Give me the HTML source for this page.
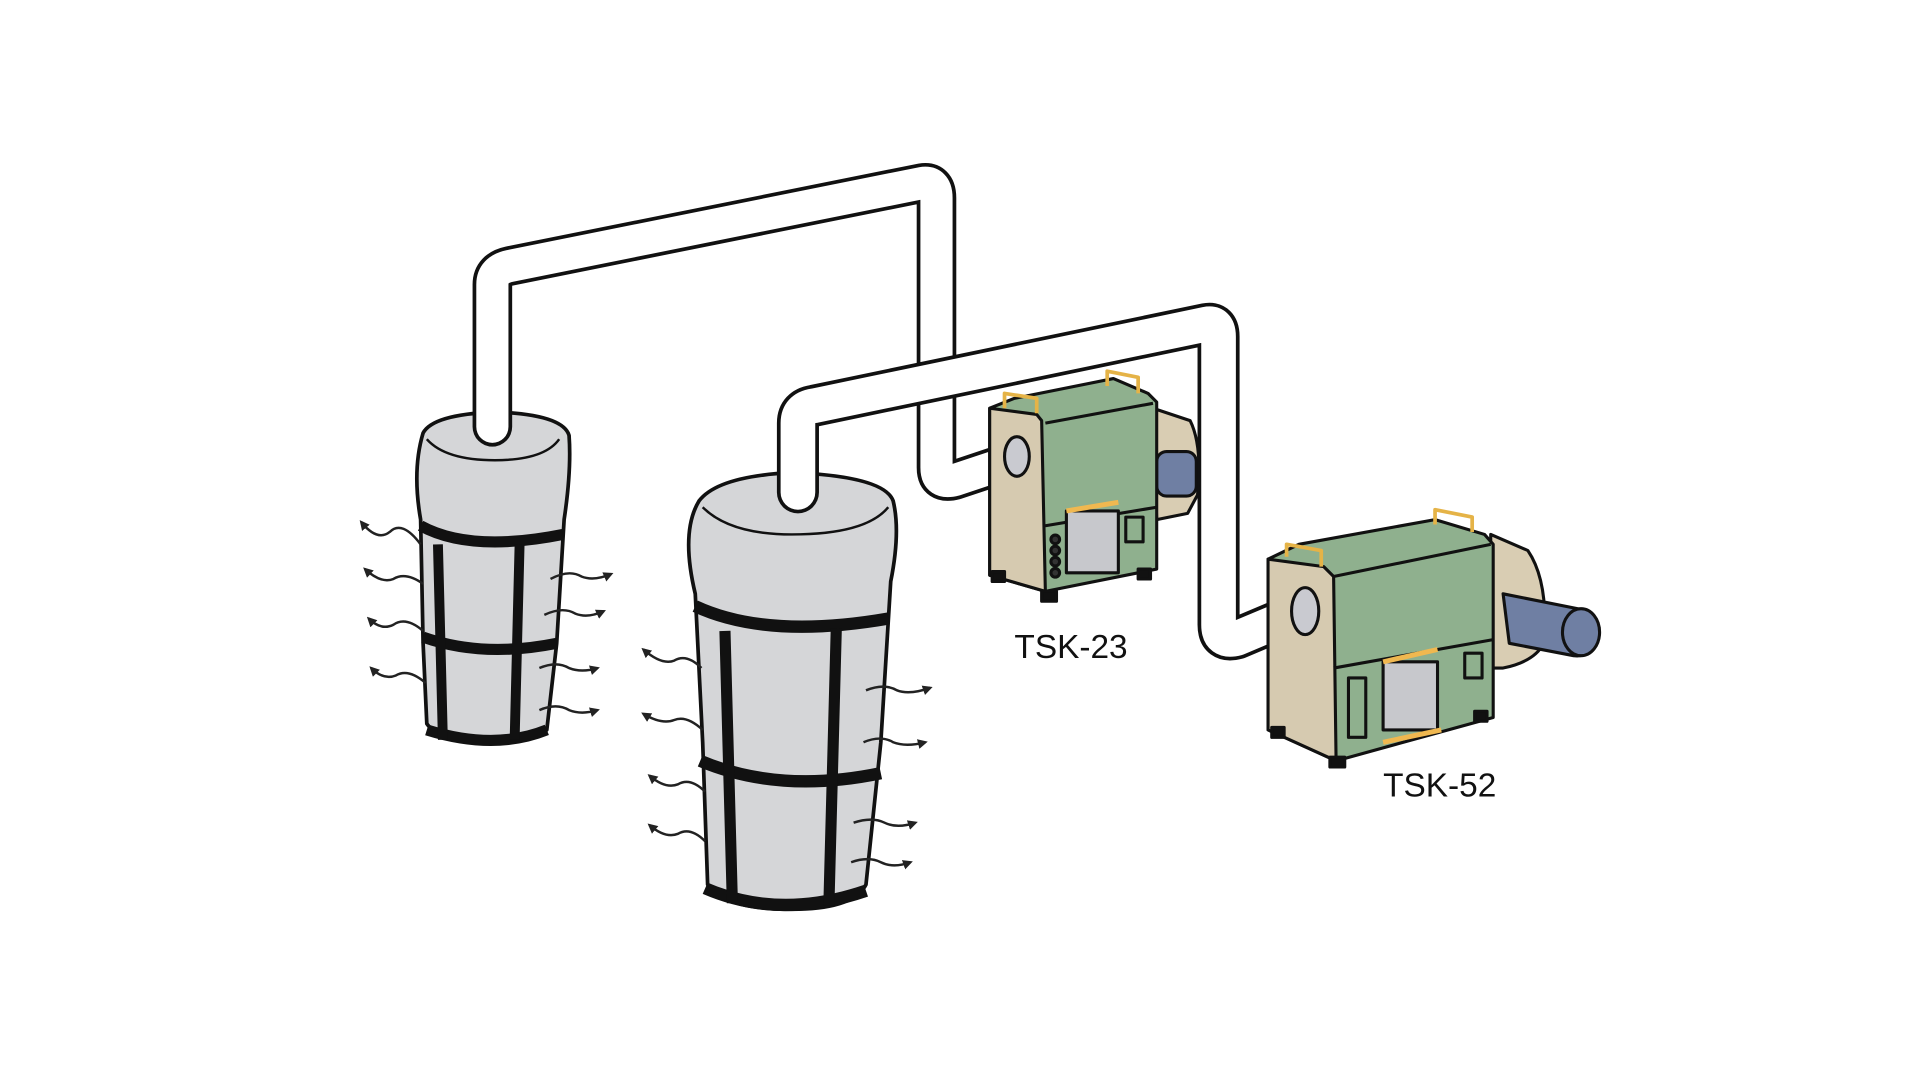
<!DOCTYPE html>
<html><head><meta charset="utf-8"><style>html,body{margin:0;padding:0;background:#fff;width:1920px;height:1080px;overflow:hidden}</style></head>
<body>
<svg width="1920" height="1080" viewBox="0 0 1552 873" preserveAspectRatio="none" xmlns="http://www.w3.org/2000/svg">
<defs>
<marker id="ah" markerWidth="8" markerHeight="8" refX="6" refY="4" orient="auto" markerUnits="userSpaceOnUse"><path d="M0,0 L8,4 L0,8 Z" fill="#222"/></marker>
</defs>
<!-- left bag -->
<g stroke="#111" stroke-linejoin="round">
<path d="M342,350 Q350,335 400,333 Q455,335 460,352 Q462,380 456,420 L450,520 L442,590 Q430,600 400,600 Q355,600 345,585 L342,520 L340,420 Q333,380 342,350 Z" fill="#d5d6d8" stroke-width="3"/>
<path d="M345,355 Q360,372 400,372 Q440,372 452,355" fill="none" stroke-width="2"/>
<path d="M340,425 Q380,447 455,432" fill="none" stroke-width="9"/>
<path d="M342,515 Q390,532 450,520" fill="none" stroke-width="9"/>
<path d="M345,590 Q400,607 442,590" fill="none" stroke-width="9"/>
<path d="M354,440 L358,598 M420,440 L416,598" stroke-width="8"/>
</g>
<g fill="none" stroke-linejoin="round" stroke-linecap="round">
<path d="M398,345 L398,230 Q398,218 412,215 L745,148 Q757,146 757,160 L757,378 Q757,392 772,388 L820,372" stroke="#111" stroke-width="32"/>
<path d="M398,345 L398,230 Q398,218 412,215 L745,148 Q757,146 757,160 L757,378 Q757,392 772,388 L820,372" stroke="#fff" stroke-width="26"/>
</g>
<!-- right bag -->
<g stroke="#111" stroke-linejoin="round">
<path d="M565,405 Q580,385 640,382 Q715,385 722,405 Q728,430 720,470 L712,600 L700,715 Q690,735 640,735 Q585,735 572,715 L568,600 L562,480 Q550,430 565,405 Z" fill="#d5d6d8" stroke-width="3"/>
<path d="M568,410 Q590,432 640,432 Q700,432 718,410" fill="none" stroke-width="2"/>
<path d="M562,490 Q620,517 718,500" fill="none" stroke-width="10"/>
<path d="M566,615 Q630,642 712,625" fill="none" stroke-width="10"/>
<path d="M570,718 Q630,744 700,720" fill="none" stroke-width="10"/>
<path d="M586,510 L592,730 M676,508 L670,732" stroke-width="9"/>
</g>
<g fill="none" stroke-linejoin="round" stroke-linecap="round">
<path d="M645,398 L645,342 Q645,330 658,328 L975,262 Q985,260 985,272 L985,505 Q985,520 1000,516 L1050,495" stroke="#111" stroke-width="34"/>
<path d="M645,398 L645,342 Q645,330 658,328 L975,262 Q985,260 985,272 L985,505 Q985,520 1000,516 L1050,495" stroke="#fff" stroke-width="28"/>
</g>
<!-- arrows -->
<g fill="none" stroke="#222" stroke-width="2" marker-end="url(#ah)">
<path d="M340,440 Q325,420 315,430 Q305,438 292,422"/>
<path d="M342,472 Q328,462 318,468 Q308,472 295,460"/>
<path d="M342,510 Q328,498 318,505 Q308,510 298,500"/>
<path d="M344,552 Q330,540 320,546 Q310,550 300,540"/>
<path d="M445,468 Q460,460 470,466 Q480,470 494,464"/>
<path d="M440,497 Q455,490 465,496 Q475,500 488,494"/>
<path d="M436,540 Q450,534 460,540 Q470,544 483,540"/>
<path d="M436,574 Q450,568 460,574 Q470,578 483,574"/>
<path d="M567,540 Q555,528 545,534 Q535,538 520,525"/>
<path d="M568,590 Q555,578 545,582 Q535,586 520,577"/>
<path d="M570,640 Q558,628 548,634 Q538,638 525,627"/>
<path d="M570,680 Q558,668 548,674 Q538,678 525,667"/>
<path d="M700,558 Q715,552 725,558 Q735,562 752,556"/>
<path d="M698,600 Q712,594 722,600 Q732,604 748,600"/>
<path d="M690,665 Q705,660 715,665 Q725,670 740,665"/>
<path d="M688,697 Q702,692 712,697 Q722,702 736,697"/>
</g>
<!-- TSK-23 -->
<g stroke="#111" stroke-width="2.5" stroke-linejoin="round">
<path d="M932,330 L962,340 Q972,360 968,400 L960,415 L935,420 Z" fill="#d9cdb3"/>
<rect x="935" y="365" width="32" height="36" rx="8" fill="#6f7fa3"/>
<path d="M800,330 L820,322 L900,306 L928,318 L935,325 L935,460 L845,478 L800,465 Z" fill="#8fb08e"/>
<path d="M800,330 L838,335 L842,340 L845,478 L800,465 Z" fill="#d6cab0"/>
<path d="M845,342 L932,326" fill="none"/>
<path d="M845,425 L935,410" fill="none"/>
<rect x="862" y="413" width="42" height="50" fill="#c7c8cc"/>
<path d="M862,413 L904,406" stroke="#f0b850" stroke-width="4"/>
<rect x="910" y="418" width="14" height="20" fill="#8fb08e"/>
<circle cx="853" cy="436" r="3.5" fill="#333"/><circle cx="853" cy="445" r="3.5" fill="#333"/><circle cx="853" cy="454" r="3.5" fill="#333"/><circle cx="853" cy="463" r="3.5" fill="#333"/>
<path d="M895,312 L895,300 L920,305 L920,318" fill="none" stroke="#e5b347" stroke-width="3"/>
<path d="M812,330 L812,318 L838,322 L838,334" fill="none" stroke="#e5b347" stroke-width="3"/>
<ellipse cx="822" cy="369" rx="10" ry="16" fill="#c9cad0"/>
<rect x="802" y="462" width="10" height="8" fill="#111"/><rect x="842" y="478" width="12" height="8" fill="#111"/><rect x="920" y="460" width="10" height="8" fill="#111"/>
</g>
<!-- TSK-52 -->
<g stroke="#111" stroke-width="2.5" stroke-linejoin="round">
<path d="M1205,432 L1235,445 Q1252,470 1248,520 Q1240,535 1215,540 L1205,540 Z" fill="#d9cdb3"/>
<path d="M1215,480 L1275,492 Q1290,495 1290,512 Q1288,532 1272,530 L1220,520 Z" fill="#6f7fa3"/>
<ellipse cx="1278" cy="511" rx="15" ry="19" fill="#6f7fa3"/>
<path d="M1025,452 L1050,440 L1160,420 L1200,432 L1207,440 L1207,580 L1080,615 L1025,590 Z" fill="#8fb08e"/>
<path d="M1025,452 L1070,458 L1078,466 L1080,615 L1025,590 Z" fill="#d6cab0"/>
<path d="M1078,466 L1205,440" fill="none"/>
<path d="M1078,540 L1207,517" fill="none"/>
<rect x="1118" y="535" width="44" height="55" fill="#c7c8cc"/>
<path d="M1118,535 L1162,525" stroke="#f0b850" stroke-width="4"/>
<path d="M1118,600 L1165,590" stroke="#f0b850" stroke-width="4"/>
<rect x="1090" y="548" width="14" height="48" fill="#8fb08e"/>
<rect x="1184" y="528" width="14" height="20" fill="#8fb08e"/>
<path d="M1160,424 L1160,412 L1190,418 L1190,430" fill="none" stroke="#e5b347" stroke-width="3"/>
<path d="M1040,450 L1040,440 L1068,445 L1068,458" fill="none" stroke="#e5b347" stroke-width="3"/>
<ellipse cx="1055" cy="494" rx="11" ry="19" fill="#c9cad0"/>
<rect x="1028" y="588" width="10" height="8" fill="#111"/><rect x="1075" y="612" width="12" height="8" fill="#111"/><rect x="1192" y="575" width="10" height="8" fill="#111"/>
</g>
<text x="820" y="532" font-family="Liberation Sans, sans-serif" font-size="27" fill="#111">TSK-23</text>
<text x="1118" y="644" font-family="Liberation Sans, sans-serif" font-size="27" fill="#111">TSK-52</text>
</svg>
</body></html>
